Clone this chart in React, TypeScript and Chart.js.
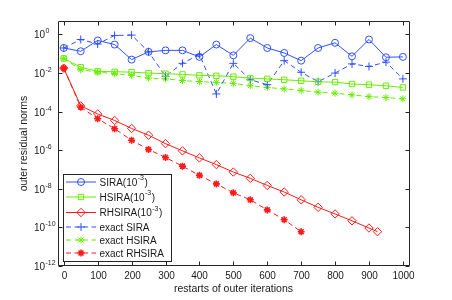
import React, { useEffect, useRef } from "react";
import { Chart, registerables } from "chart.js";
import { drawPoint } from "chart.js/helpers";

Chart.register(...registerables);

// ---------- data ----------
const X_STEPS = [0, 50, 100, 150, 200, 250, 300, 350, 400, 450, 500, 550, 600, 650, 700, 750, 800, 850, 900, 950, 1000];
const X_RHSIRA = [0, 50, 100, 150, 200, 250, 300, 350, 400, 450, 500, 550, 600, 650, 700, 750, 800, 850, 900, 925];
const X_EXACT_RHSIRA = [0, 50, 100, 150, 200, 250, 300, 350, 400, 450, 500, 550, 600, 650, 700];

const SIRA = [0.20, 0.135, 0.49, 0.30, 0.050, 0.126, 0.15, 0.15, 0.069, 0.30, 0.083, 0.65, 0.20, 0.11, 0.044, 0.20, 0.37, 0.074, 0.55, 0.066, 0.069];
const HSIRA = [0.0575, 0.020, 0.0123, 0.0117, 0.0112, 0.0100, 0.0093, 0.0085, 0.0076, 0.0072, 0.0065, 0.0055, 0.0050, 0.0045, 0.0040, 0.0035, 0.0034, 0.0027, 0.0025, 0.0022, 0.0018];
const RHSIRA = [0.018, 2.0e-4, 7.6e-5, 3.5e-5, 1.35e-5, 6.0e-6, 2.2e-6, 9.3e-7, 4.0e-7, 1.8e-7, 7.4e-8, 3.5e-8, 1.5e-8, 6.8e-9, 2.7e-9, 1.1e-9, 5.0e-10, 2.2e-10, 9.3e-11, 6.0e-11];
const EXACT_SIRA = [0.20, 0.55, 0.32, 0.89, 0.93, 0.126, 6.8e-3, 0.032, 0.091, 8.3e-4, 0.032, 4.5e-3, 2.5e-3, 0.044, 0.011, 3.6e-3, 0.010, 0.030, 0.022, 0.037, 5.0e-3];
const EXACT_HSIRA = [0.0575, 0.0148, 0.0112, 0.0093, 0.0076, 0.0055, 0.0050, 0.0041, 0.0036, 0.0033, 0.0029, 0.0022, 0.0018, 0.0015, 0.00126, 0.00102, 9.1e-4, 7.4e-4, 6.0e-4, 5.4e-4, 4.6e-4];
const EXACT_RHSIRA = [0.018, 1.7e-4, 4.3e-5, 1.3e-5, 3.3e-6, 1.1e-6, 4.2e-7, 1.5e-7, 5.0e-8, 1.8e-8, 6.2e-9, 2.7e-9, 8.1e-10, 2.5e-10, 6.0e-11];

const X_TICKS = [0, 100, 200, 300, 400, 500, 600, 700, 800, 900, 1000];
const Y_TICK_EXPONENTS = [0, -2, -4, -6, -8, -10, -12];
const X_TITLE = "restarts of outer iterations";
const Y_TITLE = "outer residual norms";
const LEGEND_ENTRIES = [
  { base: "SIRA(10", sup: "-3", tail: ")" },
  { base: "HSIRA(10", sup: "-3", tail: ")" },
  { base: "RHSIRA(10", sup: "-3", tail: ")" },
  { base: "exact SIRA", sup: "", tail: "" },
  { base: "exact HSIRA", sup: "", tail: "" },
  { base: "exact RHSIRA", sup: "", tail: "" },
];

// ---------- styles ----------
const BLUE = "#2f50ff";
const GREEN = "#66ee00";
const RED = "#ff1a1a";
const AXIS = "#262626";
const FONT = "'Liberation Sans', Arial, Helvetica, sans-serif";

const pts = (xs: number[], ys: number[]) => xs.map((x, i) => ({ x, y: ys[i] }));

const matlabPlugin = {
  id: "matlabAxes",
  afterDatasetsDraw(chart: any) {
    const { ctx, chartArea: a, scales } = chart;
    const xs = scales.x;
    const ys = scales.y;
    const L = a.left + 0.5, R = a.right + 0.5, T = a.top + 0.5, B = a.bottom - 0.5;
    ctx.save();
    ctx.strokeStyle = AXIS;
    ctx.fillStyle = "#1a1a1a";
    ctx.lineWidth = 1;
    ctx.setLineDash([]);
    ctx.beginPath();
    ctx.rect(L, T, R - L, B - T);
    ctx.stroke();

    const TL = 4;
    // x ticks
    ctx.font = `10px ${FONT}`;
    ctx.textAlign = "center";
    ctx.textBaseline = "alphabetic";
    for (const v of X_TICKS) {
      const px = Math.round(xs.getPixelForValue(v)) + 0.5;
      ctx.beginPath();
      ctx.moveTo(px, B); ctx.lineTo(px, B - TL);
      ctx.moveTo(px, T); ctx.lineTo(px, T + TL);
      ctx.stroke();
      ctx.fillText(String(v), px, B + 13);
    }
    // y ticks
    for (const e of Y_TICK_EXPONENTS) {
      const py = Math.round(ys.getPixelForValue(Math.pow(10, e))) + 0.5;
      ctx.beginPath();
      ctx.moveTo(L, py); ctx.lineTo(L + TL, py);
      ctx.moveTo(R, py); ctx.lineTo(R - TL, py);
      ctx.stroke();
      ctx.font = `10px ${FONT}`;
      ctx.textAlign = "right";
      ctx.fillText("10", 45, py + 3.5);
      ctx.font = `7px ${FONT}`;
      ctx.textAlign = "left";
      ctx.fillText(String(e), 45.5, py - 2);
    }
    // titles
    ctx.font = `10.5px ${FONT}`;
    ctx.textAlign = "center";
    ctx.fillText(X_TITLE, (a.left + a.right) / 2, 291.5);
    ctx.save();
    ctx.translate(26.5, (a.top + a.bottom) / 2);
    ctx.rotate(-Math.PI / 2);
    ctx.fillText(Y_TITLE, 0, 0);
    ctx.restore();
    ctx.restore();
  },
  afterDraw(chart: any) {
    const { ctx } = chart;
    const box = { l: 63.5, t: 174.5, r: 171.5, b: 261.5 };
    const rows = [182, 197, 212.5, 227, 240, 253];
    ctx.save();
    ctx.fillStyle = "#ffffff";
    ctx.fillRect(box.l, box.t, box.r - box.l, box.b - box.t);
    ctx.strokeStyle = AXIS;
    ctx.lineWidth = 1;
    ctx.strokeRect(box.l, box.t, box.r - box.l, box.b - box.t);
    LEGEND_ENTRIES.forEach((entry, i) => {
      const ds = chart.data.datasets[i];
      const y = rows[i];
      ctx.save();
      ctx.strokeStyle = ds.borderColor;
      ctx.lineWidth = ds.borderWidth;
      ctx.setLineDash(ds.borderDash || []);
      ctx.beginPath();
      ctx.moveTo(66, y); ctx.lineTo(96, y);
      ctx.stroke();
      ctx.setLineDash([]);
      ctx.fillStyle = "rgba(0,0,0,0)";
      ctx.lineWidth = ds.pointBorderWidth;
      drawPoint(ctx, { pointStyle: ds.pointStyle, radius: ds.pointRadius, rotation: 0, borderWidth: ds.pointBorderWidth }, 81, y);
      ctx.restore();
      ctx.fillStyle = "#1a1a1a";
      ctx.textAlign = "left";
      ctx.textBaseline = "alphabetic";
      ctx.font = `10px ${FONT}`;
      let x = 99.5;
      ctx.fillText(entry.base, x, y + 3.5);
      x += ctx.measureText(entry.base).width;
      if (entry.sup) {
        ctx.font = `7px ${FONT}`;
        ctx.fillText(entry.sup, x + 0.5, y - 2);
        x += ctx.measureText(entry.sup).width + 1;
        ctx.font = `10px ${FONT}`;
        ctx.fillText(entry.tail, x, y + 3.5);
      }
    });
    ctx.restore();
  },
};

export default function App() {
  const ref = useRef<HTMLCanvasElement | null>(null);
  useEffect(() => {
    if (!ref.current) return;
    const common = { tension: 0, borderWidth: 1, pointBorderWidth: 1, pointBackgroundColor: "rgba(0,0,0,0)", fill: false, clip: false as any };
    const chart = new Chart(ref.current, {
      type: "line",
      data: {
        datasets: [
          { ...common, label: "SIRA(10^-3)", data: pts(X_STEPS, SIRA), borderColor: BLUE, pointBorderColor: BLUE, pointStyle: "circle", pointRadius: 3.5 },
          { ...common, label: "HSIRA(10^-3)", data: pts(X_STEPS, HSIRA), borderColor: GREEN, pointBorderColor: GREEN, pointStyle: "rect", pointRadius: 3.8 },
          { ...common, label: "RHSIRA(10^-3)", data: pts(X_RHSIRA, RHSIRA), borderColor: RED, pointBorderColor: RED, pointStyle: "rectRot", pointRadius: 4.2 },
          { ...common, label: "exact SIRA", data: pts(X_STEPS, EXACT_SIRA), borderColor: BLUE, pointBorderColor: BLUE, borderDash: [5, 3.5], pointStyle: "cross", pointRadius: 4 },
          { ...common, label: "exact HSIRA", data: pts(X_STEPS, EXACT_HSIRA), borderColor: GREEN, pointBorderColor: GREEN, borderDash: [5, 3.5], pointStyle: "star", pointRadius: 3.5 },
          { ...common, label: "exact RHSIRA", data: pts(X_EXACT_RHSIRA, EXACT_RHSIRA), borderColor: RED, pointBorderColor: RED, borderDash: [5, 3.5], pointStyle: "star", pointRadius: 3.5, pointBorderWidth: 1.6 },
        ] as any,
      },
      options: {
        animation: false,
        responsive: false,
        devicePixelRatio: 1,
        events: [],
        layout: { padding: { left: 58, right: 43, top: 21, bottom: 34 } },
        plugins: { legend: { display: false }, tooltip: { enabled: false } },
        scales: {
          x: { type: "linear", min: -17, max: 1018, display: false },
          y: { type: "logarithmic", min: 1e-12, max: 5, display: false },
        },
      },
      plugins: [matlabPlugin],
    });
    return () => chart.destroy();
  }, []);
  return (
    <div style={{ position: "fixed", left: 0, top: 0, width: 452, height: 300, background: "#fff" }}>
      <canvas ref={ref} width={452} height={300} style={{ display: "block" }} />
    </div>
  );
}
